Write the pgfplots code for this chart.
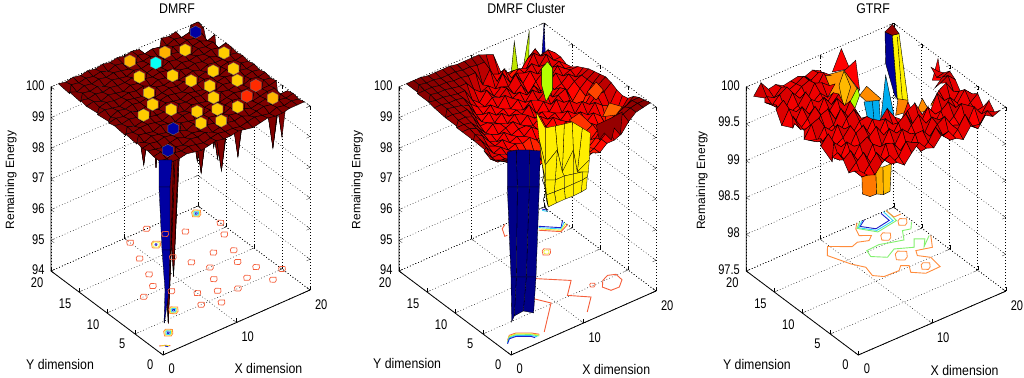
\documentclass[border=0pt]{standalone}
\usepackage{pgfplots}
\usepackage{fontspec}
\setmainfont[FakeStretch=0.88]{Liberation Sans}
\newfontfamily\rotfont{Liberation Sans}
\newfontfamily\tickfont[FakeStretch=0.79]{Liberation Sans}
\pgfplotsset{compat=1.18}
\definecolor{cRed}{RGB}{245,95,60}
\definecolor{cOr}{RGB}{255,140,60}
\definecolor{cYe}{RGB}{240,240,40}
\definecolor{cGr}{RGB}{130,240,110}
\definecolor{cCy}{RGB}{50,210,250}
\definecolor{cBl}{RGB}{30,30,200}
\pgfdeclareplotmark{hex*}{%
  \pgfpathmoveto{\pgfqpoint{0pt}{6.2pt}}%
  \pgfpathlineto{\pgfqpoint{5.4pt}{3.3pt}}%
  \pgfpathlineto{\pgfqpoint{5.4pt}{-3.3pt}}%
  \pgfpathlineto{\pgfqpoint{0pt}{-6.2pt}}%
  \pgfpathlineto{\pgfqpoint{-5.4pt}{-3.3pt}}%
  \pgfpathlineto{\pgfqpoint{-5.4pt}{3.3pt}}%
  \pgfpathclose\pgfusepathqfillstroke}
\pgfdeclareplotmark{ring}{%
  \pgfpathmoveto{\pgfqpoint{-1\pgfplotmarksize}{.25\pgfplotmarksize}}%
  \pgfpathlineto{\pgfqpoint{-.6\pgfplotmarksize}{.75\pgfplotmarksize}}%
  \pgfpathlineto{\pgfqpoint{.9\pgfplotmarksize}{.7\pgfplotmarksize}}%
  \pgfpathlineto{\pgfqpoint{1\pgfplotmarksize}{-.2\pgfplotmarksize}}%
  \pgfpathlineto{\pgfqpoint{.6\pgfplotmarksize}{-.75\pgfplotmarksize}}%
  \pgfpathlineto{\pgfqpoint{-.8\pgfplotmarksize}{-.7\pgfplotmarksize}}%
  \pgfpathclose\pgfusepathqstroke}
\pgfplotsset{
  panel/.style={
    clip=false, anchor=south west,
    xmin=0,xmax=20,ymin=0,ymax=20,
    xtick={10,20}, ytick={0,5,10,15,20},
    extra x ticks={0},
    extra x tick style={grid=none,xticklabel style={xshift=-2pt}},
    grid=major, grid style={dash pattern=on .7pt off 2.3pt,black,line width=.5pt},
    axis line style={dash pattern=on .7pt off 2.3pt,black,line width=.5pt},
    major tick length=4pt, tick style={black,solid},
    tick label style={font=\tickfont\fontsize{14}{14}\selectfont},
    xticklabel style={xshift=6pt,yshift=-4pt},
    yticklabel style={xshift=-7pt,yshift=-1pt},
    zticklabel style={xshift=-3pt},
    /pgf/number format/assume math mode=true,
    scaled z ticks=false, colormap/jet,
    zlabel={\rotfont\fontsize{12}{12}\selectfont Remaining Energy},
    every axis title shift=0pt,
    title style={font=\fontsize{14}{14}\selectfont,anchor=center},
    xlabel={X dimension}, ylabel={Y dimension},
    xlabel style={font=\fontsize{14}{14}\selectfont,anchor=center},
    ylabel style={font=\fontsize{14}{14}\selectfont,anchor=center},
    zlabel style={anchor=center},
  },
  msurf/.style={surf,shader=faceted,faceted color=black,line width=.4pt,mark=none,mesh/rows=20,mesh/cols=20},
  poly/.style={mark=none,draw=black,line width=.4pt},
  cline/.style={mark=none,line width=.9pt},
  aline/.style={mark=none,black,solid,line width=.8pt},
  table/gtab/.style={row sep=\\,header=false,x expr={mod(\coordindex,20)+1},y expr={floor(\coordindex/20)+1},z index=0},
  % shapes read as picture positions on the plane y=3 of each panel
  table/pA/.style={row sep=\\,header=false,x expr={(\thisrowno{0}-146.2)/7.35},y expr=3,z expr={100-(\thisrowno{1}-158.4+3.25*(\thisrowno{0}-146.2)/7.35)/30.67}},
  table/pB/.style={row sep=\\,header=false,x expr={(\thisrowno{0}-494.9)/7.25},y expr=3,z expr={100-(\thisrowno{1}-158.4+3.2*(\thisrowno{0}-494.9)/7.25)/30.67}},
  table/pC/.style={row sep=\\,header=false,x expr={(684+\thisrowno{0}/3-841.5)/7.37},y expr=3,z expr={100-(\thisrowno{1}/3-158.1+3.19*(684+\thisrowno{0}/3-841.5)/7.37)/73.6}},
}
\begin{document}
\begin{tikzpicture}
\useasboundingbox (0pt,0pt) rectangle (1024pt,377pt);
%================ DMRF
\begin{axis}[panel, at={(51pt,22pt)},
  x={(7.35pt,3.25pt)}, y={(-5.6pt,4.2pt)}, z={(0pt,30.67pt)},
  zmin=94,zmax=100, ztick={94,95,96,97,98,99,100},
  point meta min=94, point meta max=100,
  title={DMRF},
  title style={at={(axis cs:0,-2.5,105.62)}},
  xlabel style={at={(axis cs:7.43,-9.08,94)}},
  ylabel style={at={(axis cs:-9.84,5.47,94)}},
  zlabel style={at={(axis cs:0,27.14,95.99)}}]
\addplot3[aline] coordinates {(20,0,94)(0,0,94)(0,20,94)(0,20,100)};
\addplot3[only marks,mark=ring,mark size=3.4,mark options={draw=cRed,line width=.7pt},color=cRed] table[row sep=\\,header=false,x index=0,y index=1,z expr=94]{10 19\\14 18\\16 17\\9 16\\19 14\\12 14\\13 12\\16 12\\18 11\\14 10\\17 9\\8 13\\7 11\\5 10\\8 9\\13 8\\18 7\\10 7\\12 6\\16 6\\14 5\\9 5\\11 4\\18 4\\20 5\\13 20\\20 16\\};
\addplot3[only marks,mark=ring,mark size=4.6,mark options={draw=cOr,line width=.8pt},color=cOr] table[row sep=\\,header=false,x index=0,y index=1,z expr=94]{3 3\\6 6\\19 19\\12 17\\};
\addplot3[only marks,mark=ring,mark size=3.4,mark options={draw=cYe,line width=.7pt},color=cYe] table[row sep=\\,header=false,x index=0,y index=1,z expr=94]{3 3\\6 6\\19 19\\12 17\\};
\addplot3[only marks,mark=ring,mark size=2.4,mark options={draw=cCy,line width=.8pt},color=cCy] table[row sep=\\,header=false,x index=0,y index=1,z expr=94]{3 3\\6 6\\19 19\\};
\addplot3[only marks,mark=ring,mark size=1,mark options={draw=cBl,line width=.8pt},color=cBl] table[row sep=\\,header=false,x index=0,y index=1,z expr=94]{3 3\\6 6\\19 19\\12 17\\};
\addplot3[cline,cRed] coordinates {(0.7,1.6,94)(1.3,1.3,94)(1.7,0.9,94)};
\addplot3[cline,cYe] coordinates {(0.9,1.5,94)(1.3,1.2,94)(1.6,1,94)};
\addplot3[cline,cBl] coordinates {(1.2,1.2,94)(1.4,0.9,94)};
\addplot3[msurf,point meta={100}] table[gtab]{
100\\99.95\\99.95\\100\\99.95\\99.9\\99.95\\100\\99.95\\99.95\\100\\99.95\\99.9\\99.95\\100\\99.95\\99.95\\100\\100\\100\\
99.95\\99.9\\100\\99.95\\100\\99.95\\99.9\\99.95\\100\\99.95\\99.95\\99.9\\99.95\\100\\99.95\\99.9\\100\\99.95\\100\\99.95\\
99.95\\100\\94.3\\99.95\\99.9\\100\\99.95\\100\\99.9\\99.95\\100\\99.95\\100\\99.9\\99.95\\100\\99.95\\100\\99.95\\100\\
100\\99.95\\99.9\\99.95\\100\\99.9\\99.95\\99.9\\100\\99.95\\98.3\\100\\99.95\\100\\99.9\\99.95\\100\\98.3\\99.95\\99.95\\
99.95\\100\\99.95\\100\\99.95\\100\\99.9\\100\\98.3\\100\\99.95\\99.9\\100\\98.3\\100\\99.9\\99.95\\100\\100\\98.3\\
100\\99.9\\100\\99.95\\99.9\\95.1\\100\\99.95\\99.9\\99.95\\100\\98.3\\99.95\\100\\99.95\\98.9\\100\\99.95\\99.95\\100\\
99.95\\100\\99.95\\99.9\\100\\99.95\\99.9\\100\\100\\98.3\\99.95\\100\\99.9\\99.95\\100\\99.95\\99.95\\98.9\\100\\99.95\\
100\\99.95\\100\\100\\99.95\\99.9\\100\\99.95\\99.9\\100\\99.95\\99.9\\98.3\\100\\99.95\\100\\99.9\\100\\99.95\\100\\
99.95\\100\\99.9\\99.95\\100\\99.95\\99.95\\98.3\\100\\99.95\\100\\99.95\\100\\99.9\\100\\99.95\\98.3\\99.95\\100\\99.95\\
100\\99.95\\100\\99.95\\98.3\\100\\99.9\\100\\99.95\\99.9\\100\\99.95\\99.9\\98.3\\99.95\\100\\99.95\\100\\99.95\\100\\
99.95\\100\\99.95\\100\\99.9\\99.95\\98.3\\99.95\\100\\99.95\\99.9\\100\\99.95\\100\\99.95\\99.9\\100\\98.3\\100\\99.95\\
100\\99.9\\100\\99.95\\100\\99.95\\100\\99.9\\99.95\\100\\99.95\\100\\98.3\\99.95\\100\\98.3\\99.95\\100\\99.95\\100\\
99.95\\100\\99.95\\99.9\\100\\99.95\\99.9\\98.3\\100\\99.95\\100\\99.9\\99.95\\100\\99.9\\100\\99.95\\99.95\\100\\99.95\\
100\\99.95\\100\\99.95\\99.95\\100\\99.95\\100\\99.9\\100\\99.95\\98.3\\100\\99.95\\100\\99.95\\100\\99.9\\98.3\\100\\
99.95\\100\\99.9\\100\\99.95\\99.9\\100\\99.95\\100\\99.95\\100\\99.95\\99.9\\100\\99.95\\100\\99.95\\100\\99.95\\100\\
100\\99.95\\100\\99.95\\100\\99.95\\99.95\\100\\98.3\\99.95\\100\\99.9\\100\\99.95\\100\\99.9\\100\\99.95\\100\\98.4\\
99.95\\100\\99.95\\100\\99.9\\100\\99.95\\99.9\\100\\99.95\\100\\96.5\\99.95\\100\\99.95\\98.3\\99.95\\100\\99.9\\100\\
100\\99.9\\100\\99.95\\100\\99.95\\100\\99.95\\99.9\\100\\99.95\\100\\99.9\\98.3\\100\\99.95\\100\\99.95\\100\\99.2\\
99.95\\100\\99.95\\100\\99.95\\100\\99.9\\100\\99.95\\98.3\\100\\99.95\\100\\99.95\\99.9\\100\\99.95\\100\\100\\99.95\\
100\\99.95\\100\\99.95\\100\\99.95\\100\\99.95\\100\\99.95\\100\\99.95\\98.5\\98.6\\100\\99.95\\100\\99\\100\\100\\
};
\addplot3[surf,shader=flat,mark=none,draw=black,line width=.3pt,mesh/rows=5,mesh/cols=2,point meta={94.2},fill=mapped color] table[pA]{159 160\\172 160\\159 187\\170 187\\162 250\\170 250\\165 290\\169 290\\164 323\\164.5 323\\};
\addplot3[scatter,only marks,mark=hex*,point meta=explicit,scatter/use mapped color={draw=black!55,fill=mapped color,line width=.3pt}] table[row sep=\\,header=false,x index=0,y index=1,z expr=100,meta index=2]{
18.65 18.65 94.2\\9.7 18.65 98.2\\11.7 16.65 96.3\\13.7 17.65 98.2\\15.7 16.65 98.05\\18.7 13.65 98.05\\8.7 15.65 98.05\\11.7 13.65 98.05\\12.7 11.65 98.05\\15.7 11.65 98.05\\17.7 10.65 98.05\\16.7 8.65 98.05\\17.7 6.65 99\\15.7 5.65 99\\17.7 3.65 98.2\\13.7 9.65 98.05\\12.7 7.65 98.05\\7.7 12.65 98.05\\6.7 10.65 98.05\\4.7 9.65 98.05\\7.7 8.65 98.05\\9.7 6.65 98.05\\11.7 5.65 98.05\\13.7 4.65 98.05\\8.7 4.65 98.05\\10.7 3.65 98.05\\5.7 5.65 94.2\\2.75 2.75 94.2\\};
\end{axis}
%================ DMRF Cluster
\begin{axis}[panel, at={(399pt,22pt)},
  x={(7.25pt,3.2pt)}, y={(-5.6pt,4.2pt)}, z={(0pt,30.67pt)},
  zmin=94,zmax=100, ztick={94,95,96,97,98,99,100},
  point meta min=94, point meta max=100,
  title={DMRF Cluster},
  title style={at={(axis cs:0,-2.73,105.66)}},
  xlabel style={at={(axis cs:7.44,-9.17,94)}},
  ylabel style={at={(axis cs:-10.06,5.53,94)}},
  zlabel style={at={(axis cs:0,27.45,95.95)}}]
\addplot3[aline] coordinates {(20,0,94)(0,0,94)(0,20,94)(0,20,100)};
\addplot3[cline,cRed] coordinates {(11,9.8,94)(13.85,7.2,94)(11.8,5.2,94)(13.66,3.4,94)(11.6,1.4,94)};
\addplot3[cline,cRed] coordinates {(8.5,6.9,94)(9.5,5.15,94)(5.55,1.25,94)};
\addplot3[cline,cRed] coordinates {(16.6,5.1,94)(17.6,5.55,94)(18.46,5.15,94)(18.35,3.94,94)(17.27,3.02,94)(16.17,3.08,94)(15.8,4.13,94)(16.6,5.1,94)};
\addplot3[only marks,mark=ring,mark size=2.6,color=cRed,mark options={draw=cRed,line width=.7pt}] coordinates {(15.16,5.1,94)};
\addplot3[only marks,mark=ring,mark size=4.2,color=cRed,mark options={draw=cRed,line width=.7pt}] coordinates {(15,13.1,94)};
\addplot3[only marks,mark=ring,mark size=2.6,color=cYe,mark options={draw=cYe,line width=.7pt}] coordinates {(15,13.1,94)};
\addplot3[cline,cRed] coordinates {(14.6,19.97,94)(13.85,19.5,94)(13.2,18.2,94)(13.56,18.2,94)};
\addplot3[cline,cBl] coordinates {(17.3,17.46,94)(19.08,15.77,94)(20,16.7,94)};
\addplot3[cline,cCy] coordinates {(17.15,17.27,94)(18.93,15.58,94)(20,16.4,94)};
\addplot3[cline,cYe] coordinates {(17,17.07,94)(18.78,15.38,94)(20,16.1,94)};
\addplot3[cline,cRed] coordinates {(16.85,16.87,94)(18.63,15.18,94)(20,15.8,94)};
\addplot3[cline,cBl] coordinates {(19.6,19.8,94)(19.95,19.3,94)};
\addplot3[cline,cCy] coordinates {(19.45,19.6,94)(19.8,19.1,94)};
\addplot3[cline,cRed] coordinates {(1.4,2.43,94)(2.13,3.06,94)(2.98,2.97,94)(4.29,1.98,94)(4.86,1.23,94)};
\addplot3[cline,cYe] coordinates {(1.3,2.3,94)(2.03,2.93,94)(2.88,2.84,94)(4.19,1.85,94)(4.76,1.1,94)};
\addplot3[cline,cGr] coordinates {(1.2,2.17,94)(1.93,2.8,94)(2.78,2.71,94)(4.09,1.72,94)(4.66,1,94)};
\addplot3[cline,cCy] coordinates {(1.1,2.04,94)(1.83,2.67,94)(2.68,2.58,94)(3.99,1.59,94)(4.4,1,94)};
\addplot3[cline,cBl] coordinates {(1,1.91,94)(1.73,2.54,94)(2.58,2.45,94)(3.89,1.46,94)(4.1,1,94)};
% spikes standing behind the surface
\addplot3[poly,fill={rgb,255:red,190;green,230;blue,0}] table[pB]{515 41.7\\511.7 75\\520 80\\} -- cycle;
\addplot3[poly,fill={rgb,255:red,190;green,240;blue,0}] table[pB]{530 30.7\\523.3 72\\529.3 68\\} -- cycle;
\addplot3[poly,fill={rgb,255:red,0;green,0;blue,170}] table[pB]{544.7 24\\542.7 54\\546 54\\} -- cycle;
\addplot3[msurf] table[gtab]{
99.95\\99.9\\99.9\\99.8\\99.7\\99.6\\99.5\\99.4\\99.2\\99.2\\99.1\\99.2\\99.1\\99.3\\99.3\\99.4\\99.7\\99.9\\99.95\\100\\
99.9\\99.8\\99.8\\99.7\\99.6\\99.5\\99.4\\99.3\\99.2\\99.1\\99.2\\99\\99.1\\99.3\\99.5\\99.7\\99.8\\99.9\\99.95\\99.95\\
99.8\\99.7\\99.7\\99.6\\99.5\\99.4\\99.2\\99.2\\99.1\\99\\99.1\\99.2\\99\\99.2\\99.5\\99.6\\99.7\\99.8\\99.9\\99.9\\
99.7\\99.6\\99.5\\99.4\\99.3\\99\\98.9\\99\\99\\99.1\\99\\99\\99.2\\99\\99.2\\99.3\\99.3\\99.4\\99.6\\99.8\\
99.6\\99.4\\99.4\\99.3\\99.2\\99\\98.9\\98.8\\99\\99.1\\99.2\\99\\99.2\\99.1\\99.3\\99.1\\99\\98.9\\99.3\\99.6\\
99.7\\99.4\\99.4\\99.3\\99.3\\99.1\\99\\98.8\\99\\99.2\\99.1\\99.2\\99.1\\99.3\\99.2\\99.4\\99.2\\98.7\\99\\99.55\\
99.77\\99.6\\99.3\\99.4\\99.2\\99.3\\99.2\\99.3\\99.1\\99.3\\99.2\\99.1\\99.3\\99.2\\99.4\\99.2\\99.5\\99.3\\99.2\\99.6\\
99.8\\99.7\\99.4\\99.3\\99.4\\99.2\\99.3\\99.2\\99.4\\99.2\\99.2\\99.4\\99.2\\99.4\\99.2\\99.5\\99.3\\99.5\\99.5\\99.7\\
99.8\\99.75\\99.6\\99.3\\99.2\\99.4\\99.2\\99.3\\99.3\\99.2\\99.4\\99.2\\99.3\\99.2\\99.5\\99.3\\99.1\\99.4\\99.6\\99.75\\
99.8\\99.8\\99.7\\99.4\\99.3\\99.2\\99.3\\99.4\\99.2\\99.4\\99.2\\99.3\\99.2\\99.5\\99.3\\99.2\\98.7\\99.2\\99.5\\99.7\\
99.8\\99.8\\99.75\\99.5\\99.2\\99.4\\99.3\\99.2\\99.4\\99.3\\99.5\\99.1\\99.4\\99.2\\99.4\\99.5\\99\\99.3\\99.5\\99.65\\
99.85\\99.8\\99.8\\99.7\\99.3\\99.3\\99.2\\99.4\\99.2\\99.3\\99.2\\99.4\\99.3\\99.5\\99.2\\99.4\\99.2\\99.4\\99.5\\99.6\\
99.85\\99.85\\99.8\\99.8\\99.5\\99.2\\99.4\\99.2\\99.3\\99.2\\99.4\\99.2\\99.5\\99.3\\99.5\\99.2\\99.3\\99.5\\99.3\\99.5\\
99.85\\99.9\\99.85\\99.8\\99.7\\99.3\\99.2\\99.4\\99.2\\99.5\\99.3\\99.4\\99.2\\99.4\\99.1\\99.3\\99.5\\99.3\\99.4\\99.4\\
99.9\\99.9\\99.85\\99.85\\99.8\\99.5\\99.3\\99.2\\99.4\\99.3\\99.5\\99.2\\99.4\\99\\99.3\\99.5\\99.2\\99.5\\99.3\\99.25\\
99.95\\99.9\\99.9\\99.85\\99.8\\99.8\\99.4\\99.2\\99.5\\99.2\\99.4\\99.3\\99.6\\99.2\\99.5\\99.3\\99.5\\99.3\\99.4\\99.2\\
99.95\\99.95\\99.9\\99.9\\99.85\\99.8\\99.8\\99.5\\99.3\\99.4\\99.2\\99.6\\99.2\\99.4\\99.3\\99.5\\99.3\\99.6\\99.3\\99.3\\
99.95\\99.95\\99.95\\99.9\\99.9\\99.85\\99.85\\99.8\\99.8\\99.3\\99.7\\99.2\\99.5\\99.1\\99.3\\99.2\\99.6\\99.4\\99.5\\99.3\\
100\\100\\99.95\\99.95\\99.9\\99.9\\99.9\\99.85\\99.85\\99.8\\99.8\\99.3\\99.2\\99\\99.1\\99\\99.3\\99.5\\99.1\\99.2\\
100\\100\\100\\99.95\\99.95\\99.95\\99.95\\99.9\\99.9\\99.9\\99.9\\99.8\\99.7\\99.05\\98.9\\98.75\\98.6\\98.85\\98.95\\99.05\\
};
\addplot3[poly,fill={rgb,255:red,180;green,255;blue,0}] table[pB]{548.3 61.7\\553.3 68.3\\553.3 90\\546.7 101.7\\542.3 85\\542.3 68.3\\} -- cycle;
\addplot3[poly,fill={rgb,255:red,150;green,0;blue,0}] table[pB]{597 125\\612 118\\623 112\\621 135\\615 128\\612 140\\605 133\\600 140\\} -- cycle;
\addplot3[poly,fill={rgb,255:red,255;green,100;blue,0}] table[pB]{603.3 116.7\\610 103\\623 106.7\\616.7 115\\} -- cycle;
\addplot3[poly,fill={rgb,255:red,255;green,70;blue,0}] table[pB]{588 92\\597 82\\604 90\\597 100\\} -- cycle;
\addplot3[poly,fill={rgb,255:red,255;green,50;blue,0}] table[pB]{570 120\\580 113\\593 125\\585 133\\} -- cycle;
\addplot3[cline,black,line width=.5pt] table[pB]{541 130\\547 150\\542 160\\548 170\\543 180\\547 190\\544 200\\548 212\\};
\addplot3[surf,shader=flat,mark=none,draw=black,line width=.3pt,mesh/rows=5,mesh/cols=7,point meta={97.85},fill=mapped color] table[pB]{
537 112\\546 128\\556 126\\565 124\\573 122\\583 128\\591 133\\
540 140\\546 165\\558 150\\563 172\\574 150\\578 172\\590 160\\
543 165\\546 180\\556 180\\565 176\\574 174\\583 172\\589 172\\
545 182\\547 195\\555 192\\565 188\\574 184\\583 180\\588 177\\
547 200\\549 207\\557 203\\566 199\\574 196\\582 192\\587 189\\
};
\addplot3[surf,shader=flat,mark=none,draw=black,line width=.3pt,mesh/rows=4,mesh/cols=4,point meta={94.05},fill=mapped color] table[pB]{
508 152\\517 150\\530 150\\541 151\\
508 187\\518 187\\530 187\\540 187\\
511.7 277\\517 277\\527 277\\536.7 277\\
512.3 322\\515 316\\524 311\\534.3 313\\
};
\end{axis}
%================ GTRF
\begin{axis}[panel, at={(746.3pt,22pt)},
  x={(7.37pt,3.19pt)}, y={(-5.6pt,4.2pt)}, z={(0pt,73.6pt)},
  zmin=97.5,zmax=100, ztick={97.5,98,98.5,99,99.5,100},
  point meta min=97.5, point meta max=100.1,
  /pgf/number format/fixed, /pgf/number format/precision=1,
  title={GTRF},
  title style={at={(axis cs:0,-2.63,102.35)}},
  xlabel style={at={(axis cs:7.42,-9.22,97.5)}},
  ylabel style={at={(axis cs:-9.79,5.22,97.5)}},
  zlabel style={at={(axis cs:0,27.9,98.28)}}]
\addplot3[aline] coordinates {(20,0,97.5)(0,0,97.5)(0,20,97.5)(0,20,100)};
\addplot3[cline,cOr] coordinates {(15,20,97.5)(14.24,19.2,97.5)(13.77,17.98,97.5)(14.83,17.18,97.5)(14.05,16.57,97.5)(12.85,17.09,97.5)(11.9,16.76,97.5)(9.8,18.4,97.5)(8.74,17.04,97.5)(9.8,14.24,97.5)(10.71,12.76,97.5)(10.33,11.07,97.5)(11.21,10.16,97.5)(13.19,10.08,97.5)(13.91,10.73,97.5)(14.63,10.18,97.5)(14,9.06,97.5)(15.18,7.93,97.5)(17.18,8,97.5)(17.45,10,97.5)(16.49,11.15,97.5)(16.93,12,97.5)(18.73,11.42,97.5)(19.94,13.3,97.5)};
\addplot3[cline,cGr] coordinates {(19.8,16.57,97.5)(19,15.6,97.5)(18.07,15.9,97.5)(17.13,14.38,97.5)(15.87,14.8,97.5)(14.45,15.32,97.5)(12.7,15.2,97.5)(12.37,14.05,97.5)(13.72,12.85,97.5)(15.24,13.67,97.5)(17.16,12.62,97.5)(18.12,13.88,97.5)(19.04,13.18,97.5)(18.1,12.07,97.5)(19.8,13.41,97.5)};
\addplot3[cline,cBl] coordinates {(16,20,97.5)(14.9,19.3,97.5)(16,17.9,97.5)(18.1,18.3,97.5)(18.2,19.9,97.5)};
\addplot3[cline,cCy] coordinates {(15.7,20,97.5)(14.6,19.2,97.5)(15.9,17.6,97.5)(18.4,18,97.5)(18.6,20,97.5)};
\addplot3[cline,cGr] coordinates {(15.4,20,97.5)(14.4,19.2,97.5)(15.8,17.3,97.5)(18.7,17.8,97.5)(19,20,97.5)};
\addplot3[cline,cOr] coordinates {(18.94,20,97.5)(18.9,18.5,97.5)(19.84,18.5,97.5)};
\addplot3[only marks,mark=ring,mark size=4.5,color=cOr,mark options={draw=cOr,line width=.8pt}] coordinates {(19.06,17.2,97.5)};
\addplot3[only marks,mark=ring,mark size=5,color=cOr,mark options={draw=cOr,line width=.8pt}] coordinates {(15.95,16.08,97.5)};
\addplot3[only marks,mark=ring,mark size=6,color=cOr,mark options={draw=cOr,line width=.8pt}] coordinates {(15.1,12.2,97.5)};
\addplot3[only marks,mark=ring,mark size=4.5,color=cOr,mark options={draw=cOr,line width=.8pt}] coordinates {(16,9.03,97.5)};
% coloured walls behind the surface, read in picture positions
\addplot3[poly,fill=red] table[pC]{445 215\\472 145\\497 205\\} -- cycle;
\addplot3[poly,fill=red] table[pC]{480 212\\515 180\\527 270\\} -- cycle;
\addplot3[poly,fill=red] table[pC]{745 240\\762 175\\772 240\\} -- cycle;
\addplot3[poly,fill={rgb,255:red,255;green,140;blue,0}] table[pC]{740 315\\770 265\\790 315\\} -- cycle;
\addplot3[poly,fill={rgb,255:red,255;green,140;blue,0}] table[pC]{695 340\\715 295\\735 330\\} -- cycle;
\addplot3[poly,fill={rgb,255:red,255;green,150;blue,0}] table[pC]{425 225\\480 210\\525 272\\500 330\\470 335\\440 295\\} -- cycle;
\addplot3[poly,fill={rgb,255:red,255;green,185;blue,0}] table[pC]{465 255\\480 212\\500 260\\480 325\\} -- cycle;
\addplot3[poly,fill={rgb,255:red,180;green,255;blue,0}] table[pC]{480 340\\520 262\\527 285\\505 345\\} -- cycle;
\addplot3[poly,fill={rgb,255:red,255;green,140;blue,0}] table[pC]{527 285\\548 258\\590 295\\585 302\\545 302\\} -- cycle;
\addplot3[poly,fill=cyan] table[pC]{540 305\\585 300\\590 372\\550 352\\} -- cycle;
\addplot3[cline,black,line width=.4pt] table[pC]{565 303\\570 360\\};
\addplot3[poly,fill={rgb,255:red,255;green,130;blue,0}] table[pC]{650 240\\672 300\\670 335\\635 345\\} -- cycle;
\addplot3[poly,fill=cyan] table[pC]{605 225\\630 345\\590 362\\} -- cycle;
\addplot3[poly,fill={rgb,255:red,0;green,0;blue,150}] table[pC]{603 95\\625 105\\640 295\\632 285\\605 190\\} -- cycle;
\addplot3[poly,fill=yellow] table[pC]{625 105\\645 100\\672 300\\640 295\\} -- cycle;
\addplot3[cline,black,line width=.4pt] table[pC]{640 110\\655 298\\};
\addplot3[poly,fill={rgb,255:red,150;green,0;blue,0}] table[pC]{603 95\\625 72\\645 100\\625 105\\} -- cycle;
\addplot3[poly,fill=red] table[pC]{672 305\\692 352\\655 352\\} -- cycle;
% tube hanging under the front corner
\addplot3[poly,fill={rgb,255:red,255;green,120;blue,0}] table[pC]{533 500\\575 500\\578 581\\558 589\\535 581\\} -- cycle;
\addplot3[poly,fill={rgb,255:red,255;green,175;blue,0}] table[pC]{575 500\\597 500\\598 583\\578 581\\} -- cycle;
\addplot3[poly,fill={rgb,255:red,255;green,190;blue,0}] table[pC]{597 500\\622 490\\618 573\\598 583\\} -- cycle;
\addplot3[msurf,unbounded coords=jump] table[gtab]{
99.9\\99.8\\99.76\\99.88\\99.94\\99.8\\99.72\\99.84\\99.94\\99.82\\99.78\\99.9\\99.92\\99.78\\99.72\\99.86\\99.78\\99.92\\99.86\\99.9\\
99.84\\99.72\\99.84\\99.96\\99.82\\99.72\\99.78\\99.94\\99.88\\99.72\\99.8\\99.96\\99.8\\99.7\\99.8\\99.96\\99.76\\99.74\\99.88\\99.82\\
99.76\\99.86\\99.95\\99.76\\99.72\\99.94\\99.9\\99.76\\99.72\\99.9\\99.9\\99.78\\99.9\\99.96\\99.8\\99.76\\99.72\\99.92\\99.78\\99.92\\
99.88\\99.96\\99.78\\99.72\\99.92\\99.84\\99.74\\99.78\\99.95\\99.85\\99.74\\99.76\\99.94\\99.86\\99.74\\99.82\\99.95\\99.88\\99.76\\99.78\\
99.92\\99.78\\99.74\\99.9\\99.96\\99.72\\99.76\\99.94\\99.84\\99.72\\99.86\\99.96\\99.8\\99.72\\99.88\\99.96\\99.84\\99.72\\99.82\\99.9\\
99.8\\99.72\\99.92\\99.82\\99.74\\99.86\\99.96\\99.8\\99.72\\99.88\\99.96\\99.76\\99.74\\99.92\\99.78\\99.76\\99.92\\99.8\\99.94\\99.84\\
99.74\\99.9\\99.8\\99.72\\99.9\\99.96\\99.78\\99.74\\99.92\\99.8\\99.72\\99.9\\99.96\\99.76\\99.74\\99.96\\99.82\\99.72\\99.86\\99.8\\
99.84\\99.96\\99.76\\99.82\\99.94\\99.76\\99.72\\99.9\\99.84\\99.96\\99.8\\99.72\\nan\\nan\\nan\\99.76\\99.9\\99.96\\99.8\\99.74\\
99.94\\99.8\\99.72\\99.94\\99.84\\99.72\\99.86\\99.88\\nan\\nan\\nan\\nan\\nan\\nan\\nan\\nan\\nan\\99.9\\99.96\\99.86\\
99.8\\99.74\\99.9\\99.8\\99.72\\99.88\\99.96\\99.8\\nan\\nan\\nan\\nan\\nan\\nan\\nan\\nan\\nan\\99.78\\99.88\\99.92\\
99.76\\99.92\\99.96\\99.74\\99.78\\99.96\\99.8\\99.86\\nan\\nan\\nan\\nan\\nan\\nan\\nan\\nan\\nan\\nan\\99.82\\99.84\\
99.88\\99.8\\99.72\\99.9\\99.94\\99.76\\99.72\\99.92\\nan\\nan\\nan\\nan\\nan\\nan\\nan\\nan\\nan\\nan\\99.9\\99.8\\
99.96\\99.74\\99.84\\99.96\\99.78\\99.82\\99.94\\99.8\\nan\\nan\\nan\\nan\\nan\\nan\\nan\\nan\\nan\\nan\\nan\\nan\\
99.8\\99.76\\99.94\\99.8\\99.72\\99.94\\99.8\\99.9\\nan\\nan\\nan\\nan\\nan\\nan\\nan\\nan\\nan\\nan\\nan\\nan\\
99.72\\99.9\\99.82\\99.74\\99.9\\99.82\\99.74\\99.86\\nan\\nan\\nan\\nan\\nan\\nan\\nan\\nan\\nan\\nan\\nan\\nan\\
99.88\\99.96\\99.76\\99.8\\99.94\\99.76\\99.84\\99.74\\99.88\\nan\\nan\\nan\\nan\\nan\\nan\\nan\\nan\\nan\\nan\\nan\\
99.94\\99.8\\99.74\\99.92\\99.8\\99.74\\99.92\\99.88\\99.8\\nan\\nan\\nan\\nan\\nan\\nan\\nan\\nan\\nan\\nan\\nan\\
99.86\\99.78\\99.88\\99.94\\99.78\\99.86\\99.9\\99.76\\99.92\\99.84\\nan\\nan\\nan\\nan\\nan\\nan\\nan\\nan\\nan\\nan\\
99.92\\99.84\\99.78\\99.88\\99.8\\99.84\\99.9\\99.8\\99.86\\99.78\\nan\\nan\\nan\\nan\\nan\\nan\\nan\\nan\\nan\\nan\\
99.83\\99.97\\99.84\\99.86\\99.8\\99.82\\99.84\\99.8\\99.84\\99.79\\nan\\nan\\nan\\nan\\nan\\nan\\nan\\nan\\nan\\nan\\
};
\end{axis}
\end{tikzpicture}
\end{document}
